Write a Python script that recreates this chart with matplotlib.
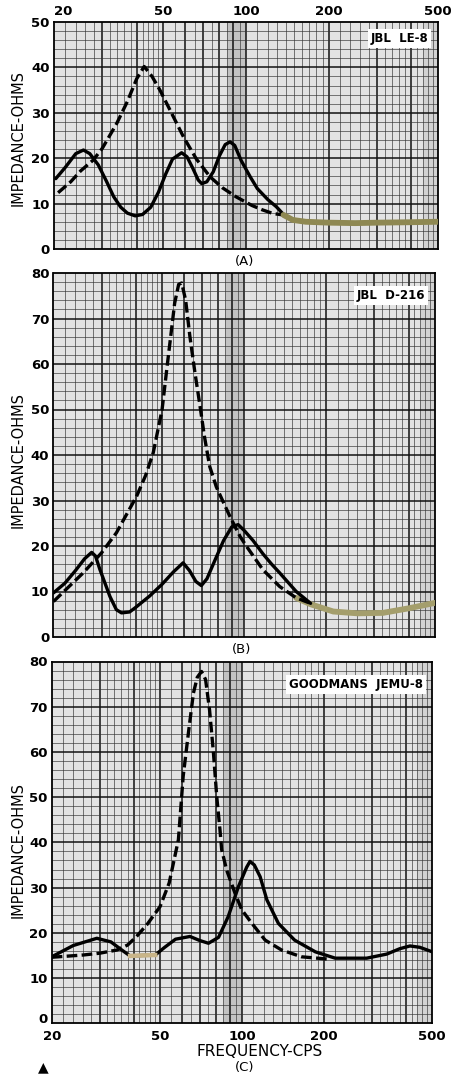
import numpy as np
import matplotlib
matplotlib.use("Agg")
import matplotlib.pyplot as plt
from matplotlib.transforms import ScaledTranslation

# ---- datos (frecuencia en c/s, impedancia en ohms) ----
# (A) JBL LE-8
a_sol_f = [20.3, 22, 24, 25.6, 27, 29, 31, 33, 35, 37, 39.5, 42, 45, 48, 51, 54, 58.3, 61, 64, 67,
           69, 72, 76, 80, 84, 87.5, 91, 96, 103.6, 110, 120, 129, 137]
a_sol_z = [15.5, 18.0, 21.0, 21.8, 21.0, 18.5, 15.0, 11.5, 9.2, 7.9, 7.3, 7.6, 9.2, 12.5, 16.5, 19.8, 21.2, 20.3, 17.8, 15.2,
           14.4, 14.8, 17.0, 20.5, 23.0, 23.6, 22.8, 19.5, 15.9, 13.3, 10.9, 9.3, 7.6]
a_dash_f = [20.7, 23, 25, 27.8, 30, 33.8, 37, 40, 42.6, 45.5, 48.6, 53, 59.2, 66, 74, 82, 92, 105, 115, 125.6, 137]
a_dash_z = [12.4, 14.8, 17.2, 19.6, 22.2, 27.6, 32.5, 37.5, 40.2, 38.0, 35.0, 30.5, 24.7, 19.8, 15.9, 13.5, 11.5, 9.6, 8.6, 7.8, 7.5]
a_com_f = [137, 148, 165, 200, 250, 300, 400, 500]
a_com_z = [7.5, 6.4, 6.0, 5.8, 5.7, 5.8, 5.9, 6.0]

# (B) JBL D-216
b_sol_f = [20, 22, 24, 26, 27.6, 28.5, 29.6, 32.2, 34, 35.5, 38, 40, 45, 50, 55, 59.7, 63, 66.5, 69.6, 73,
           78, 84, 90, 95, 100, 107.7, 117, 126, 134.8, 155, 175]
b_sol_z = [9.7, 11.8, 14.5, 17.2, 18.6, 17.8, 14.8, 8.9, 6.0, 5.3, 5.5, 6.5, 9.0, 11.6, 14.3, 16.3, 14.6, 12.2, 11.3, 12.8,
           16.8, 21.2, 24.2, 24.7, 23.4, 21.2, 18.3, 16.0, 14.1, 10.0, 7.4]
b_dash_f = [20, 25.7, 30, 34, 40.3, 43.5, 46.4, 50, 52, 55.6, 57.5, 59, 61, 63.2, 66, 68.6, 71.5, 74.7,
            79, 84, 88.6, 96.5, 102, 117, 134.8, 155, 175]
b_dash_z = [7.8, 14.1, 18.5, 22.9, 30.9, 35.5, 40.5, 50.0, 58.8, 73.4, 77.5, 77.8, 74.0, 66.1, 58.0, 51.4, 44.0, 37.5,
            33.0, 29.5, 26.5, 22.1, 19.9, 14.8, 11.1, 8.6, 7.4]
b_com_f = [155, 175, 212, 260, 322, 400, 500]
b_com_z = [8.6, 7.2, 5.6, 5.2, 5.3, 6.3, 7.5]

# (C) GOODMANS JEMU-8
c_sol_f = [20, 24, 29.3, 33, 36, 38.8, 43, 48, 52, 57, 64.4, 70, 75.3, 82, 89, 97, 104, 107, 111, 116.6,
           123.4, 136, 156, 186, 220, 287, 340, 380, 414, 450, 500]
c_sol_z = [14.7, 17.2, 18.8, 18.0, 16.3, 14.9, 15.0, 15.1, 16.8, 18.6, 19.2, 18.3, 17.7, 19.0, 23.6, 30.2, 34.5, 35.8, 35.0, 32.4,
           27.3, 22.1, 18.4, 15.8, 14.4, 14.4, 15.3, 16.5, 17.1, 16.8, 15.8]
c_dash_f = [20, 26.1, 30, 34.7, 38, 41, 45, 50, 54, 58.4, 60.8, 63.5, 66.3, 68.5, 71, 73.5, 76, 78.5, 80.8, 83,
            84.2, 87.8, 94.2, 99.8, 108.7, 121.6, 139.8, 165.6, 207]
c_dash_z = [14.6, 15.1, 15.5, 16.2, 17.3, 19.2, 22.0, 25.8, 31.0, 40.6, 54.6, 64.0, 73.0, 76.5, 77.8, 76.0, 69.3, 60.0, 50.0, 42.8,
            38.4, 33.9, 28.8, 25.1, 22.1, 18.4, 16.2, 14.7, 14.2]

x_ticks = [20, 50, 100, 200, 500]

plt.rcParams["font.family"] = ["DejaVu Sans"]

fig = plt.figure(figsize=(4.52, 10.75), dpi=100)
W, H = 452.0, 1075.0


def panel(x0, x1, y0, y1, ymax):
    ax = fig.add_axes([x0 / W, 1 - y1 / H, (x1 - x0) / W, (y1 - y0) / H])
    ax.set_xscale("log")
    ax.set_xlim(20, 500)
    ax.set_ylim(0, ymax)
    ax.set_facecolor("#e3e3e3")
    ax.axvspan(85, 100, color="#c2c2c2", lw=0, zorder=0)
    ax.axvspan(440, 500, color="#d2d2d2", lw=0, zorder=0)
    # papel logaritmico
    mayores = list(range(30, 100, 10)) + [100, 200, 300, 400]
    menores = ([f for f in range(22, 50, 2) if f % 10] + [55, 65, 75, 85, 95]
               + list(range(110, 200, 10)) + [f for f in range(220, 500, 20) if f % 100])
    for f in menores:
        ax.axvline(f, color="#333333", lw=0.45, zorder=1)
    for f in mayores:
        ax.axvline(f, color="#111111", lw=1.1, zorder=1)
    for z in range(2, ymax, 2):
        if z % 10:
            ax.axhline(z, color="#333333", lw=0.45, zorder=1)
    for z in range(10, ymax, 10):
        ax.axhline(z, color="#111111", lw=1.1, zorder=1)
    ax.set_yticks(range(0, ymax + 1, 10))
    ax.set_xticks(x_ticks)
    ax.xaxis.set_minor_locator(matplotlib.ticker.NullLocator())
    ax.tick_params(length=0, labelsize=9.5, pad=3)
    for lab in ax.get_yticklabels():
        lab.set_fontweight("bold")
    for s in ax.spines.values():
        s.set_linewidth(1.3)
    return ax


def curvas(ax, sf, sz, df, dz):
    ax.plot(sf, sz, color="black", lw=2.4, solid_capstyle="round", zorder=4)
    ax.plot(df, dz, color="black", lw=2.4, ls=(0, (3.2, 1.3)), zorder=4)


def rotulo(ax, txt):
    ax.text(0.975, 0.955, txt, transform=ax.transAxes, ha="right", va="top", fontsize=8.5,
            fontweight="bold", zorder=6,
            bbox=dict(boxstyle="square,pad=0.25", fc="white", ec="none"))


# (A)
axa = panel(54, 438, 22, 249, 50)
curvas(axa, a_sol_f, a_sol_z, a_dash_f, a_dash_z)
axa.plot(a_com_f, a_com_z, color="#8e8852", lw=4.2, solid_capstyle="round", zorder=4)
axa.xaxis.tick_top()
axa.set_xticklabels([str(t) for t in x_ticks], fontweight="bold")
axa.get_xticklabels()[0].set_horizontalalignment("left")
rotulo(axa, "JBL  LE-8")

# (B)
axb = panel(53.5, 435, 273, 637, 80)
curvas(axb, b_sol_f, b_sol_z, b_dash_f, b_dash_z)
axb.plot(b_com_f, b_com_z, color="#a49e6c", lw=4.2, solid_capstyle="round", zorder=3.9)
axb.set_xticklabels([])
rotulo(axb, "JBL  D-216")

# (C)
axc = panel(51.7, 432.3, 661.5, 1023.3, 80)
curvas(axc, c_sol_f, c_sol_z, c_dash_f, c_dash_z)
cf = np.array(c_sol_f)
cz = np.array(c_sol_z)
m = (cf >= 38.8) & (cf <= 48)
axc.plot(cf[m], cz[m], color="#c8b488", lw=3.2, zorder=4.5)
axc.set_xticklabels([str(t) for t in x_ticks], fontweight="bold")
axc.tick_params(axis="x", pad=5)
cero = axc.get_yticklabels()[0]
cero.set_transform(cero.get_transform() + ScaledTranslation(0, 5 / 100, fig.dpi_scale_trans))
rotulo(axc, "GOODMANS  JEMU-8")

for yc in [138, 460, 850]:
    fig.text(18 / W, 1 - yc / H, "IMPEDANCE-OHMS", rotation=90, ha="center", va="center", fontsize=10.5)
fig.text(245 / W, 1 - 261 / H, "(A)", ha="center", va="center", fontsize=9.5)
fig.text(242 / W, 1 - 649 / H, "(B)", ha="center", va="center", fontsize=9.5)
fig.text(245 / W, 1 - 1068 / H, "(C)", ha="center", va="center", fontsize=9.5)
fig.text(260 / W, 1 - 1052 / H, "FREQUENCY-CPS", ha="center", va="center", fontsize=11)
fig.text(43 / W, 1 - 1067 / H, "\u25B2", ha="center", va="center", fontsize=10)

fig.savefig("out.png", dpi=100, facecolor="white")
